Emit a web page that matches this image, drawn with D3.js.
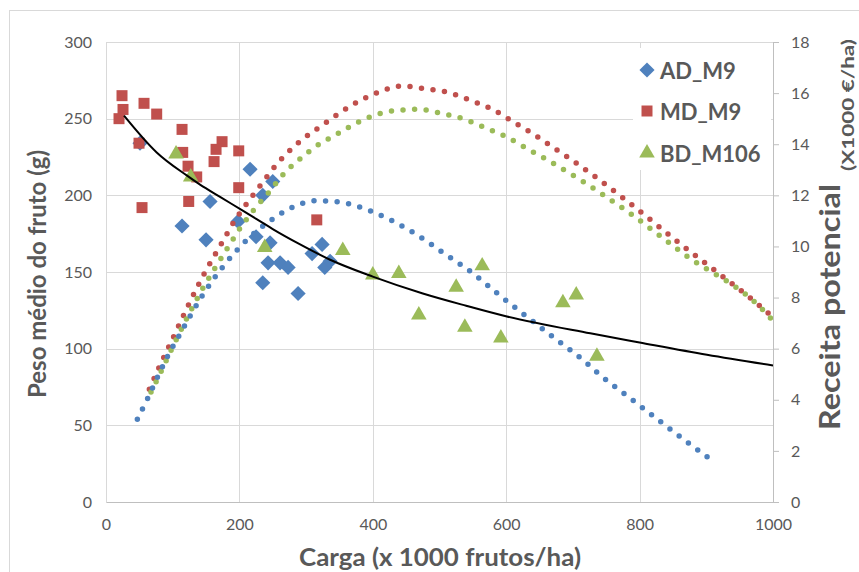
<!DOCTYPE html>
<html>
<head>
<meta charset="utf-8">
<script src="https://cdn.jsdelivr.net/npm/d3@7"></script>
<style>
  html, body { margin: 0; padding: 0; background: #fff; }
  svg { display: block; }
  text { font-family: Lato, "Open Sans", sans-serif; fill: #595959; }
</style>
</head>
<body>
<svg id="chart" width="859" height="572"></svg>
<script>
// ---------- DATA ----------
const xTicks = [0, 200, 400, 600, 800, 1000];
const yLeftTicks = [0, 50, 100, 150, 200, 250, 300];
const yRightTicks = [0, 2, 4, 6, 8, 10, 12, 14, 16, 18];

const seriesNames = ["AD_M9", "MD_M9", "BD_M106"];
const seriesColors = ["#4F81BD", "#C0504D", "#9BBB59"];

// AD_M9 (blue diamonds): carga, peso
const adX = [51, 114, 150, 156, 198, 216, 225, 235, 235, 246, 243, 250, 261, 273, 288, 309, 324, 328, 336];
const adY = [234, 180, 171, 196, 183, 217, 173, 143, 200, 169, 156, 209, 156, 153, 136, 162, 168, 153, 157];

// MD_M9 (red squares)
const mdX = [24, 25.5, 19.5, 57, 76, 114, 49.5, 174, 165, 199, 115, 162, 123, 136, 199, 54, 124, 316];
const mdY = [265, 256, 250, 260, 253, 243, 234, 235, 230, 229, 228, 222, 219, 212, 205, 192, 196, 184];

// BD_M106 (green triangles)
const bdX = [105, 127, 238, 355, 400, 439, 469, 525, 538, 564, 592, 685, 705, 736];
const bdY = [227, 212, 166, 164, 148, 149, 122, 140, 114, 154, 107, 130, 135, 95];

// black curve (peso vs carga)
const curveX = [27, 76, 121, 141, 171, 205, 235, 250, 291, 336, 400, 475, 540, 601, 726, 800, 901, 1000];
const curveY = [252, 228, 213, 207, 199, 190, 182, 178, 168, 158, 147, 136, 128, 121, 110, 104, 96, 89];

// Receita potencial (right axis, x1000 €/ha) dotted curves
const adRecX = [47, 62.5, 77.5, 93, 110, 145, 176, 211, 252, 282, 316, 351, 400, 463, 507, 550, 591, 632, 674, 716, 742, 784, 826, 868, 910];
const adRecY = [3.24, 4.06, 4.9, 5.74, 6.53, 8.1, 9.23, 10.25, 11.11, 11.56, 11.79, 11.73, 11.35, 10.51, 9.73, 8.95, 8.07, 7.23, 6.38, 5.54, 4.94, 4.1, 3.25, 2.41, 1.6];

const mdRecX = [65, 79.5, 94.5, 148, 174, 192, 212, 233, 255, 279, 330, 370, 411, 443, 478, 513, 546, 579, 609, 639, 669, 697, 780, 863, 920, 975, 1000];
const mdRecY = [4.41, 5.26, 6.09, 8.97, 10.15, 10.97, 11.71, 12.44, 13.19, 13.84, 14.85, 15.55, 16.06, 16.28, 16.17, 16.03, 15.72, 15.37, 14.9, 14.43, 13.9, 13.41, 11.8, 10.06, 8.92, 7.79, 7.23];

const bdRecX = [67.5, 83, 98, 146, 164, 183, 202, 223, 246, 268, 294, 307, 350, 385, 415, 450, 467, 502, 536, 568, 601, 631, 662, 780, 865, 993, 1000];
const bdRecY = [4.3, 5.13, 5.96, 8.4, 9.18, 9.97, 10.75, 11.47, 12.18, 12.89, 13.49, 13.77, 14.45, 14.95, 15.23, 15.35, 15.37, 15.21, 14.99, 14.65, 14.28, 13.83, 13.38, 11.4, 9.73, 7.29, 7.08];

// ---------- CHART ----------
const svg = d3.select("#chart");
const W = 859, H = 572;
const plot = { left: 106, right: 773, top: 42, bottom: 502 };

const x = d3.scaleLinear().domain([0, 1000]).range([plot.left, plot.right]);
const yL = d3.scaleLinear().domain([0, 300]).range([plot.bottom, plot.top]);
const yR = d3.scaleLinear().domain([0, 18]).range([plot.bottom, plot.top]);

// outer border
svg.append("rect")
  .attr("x", 9.5).attr("y", 10.5)
  .attr("width", W).attr("height", H)
  .attr("fill", "#fff").attr("stroke", "#D9D9D9").attr("stroke-width", 1);

// gridlines
const grid = svg.append("g").attr("stroke", "#D9D9D9").attr("stroke-width", 1);
grid.selectAll("line.h").data(yLeftTicks.filter(d => d > 0)).join("line")
  .attr("x1", plot.left).attr("x2", plot.right)
  .attr("y1", d => Math.round(yL(d)) + 0.5).attr("y2", d => Math.round(yL(d)) + 0.5);
grid.selectAll("line.v").data(xTicks.filter(d => d > 0 && d < 1000)).join("line")
  .attr("y1", plot.top).attr("y2", plot.bottom)
  .attr("x1", d => Math.round(x(d)) + 0.5).attr("x2", d => Math.round(x(d)) + 0.5);

// axes
const axisColor = "#BFBFBF";
const fmt = d3.format("d");
const gL = svg.append("g").attr("transform", `translate(${plot.left},0)`)
  .call(d3.axisLeft(yL).tickValues(yLeftTicks).tickFormat(fmt).tickSize(0).tickPadding(14));
const gB = svg.append("g").attr("transform", `translate(0,${plot.bottom})`)
  .call(d3.axisBottom(x).tickValues(xTicks).tickFormat(fmt).tickSize(0).tickPadding(17));
const gR = svg.append("g").attr("transform", `translate(${plot.right},0)`)
  .call(d3.axisRight(yR).tickValues(yRightTicks).tickFormat(fmt).tickSize(6).tickPadding(12));
[gL, gB, gR].forEach(g => {
  g.select(".domain").attr("stroke", axisColor);
  g.selectAll(".tick line").attr("stroke", axisColor);
  g.selectAll(".tick text").attr("fill", "#595959")
    .style("font-size", "16px").style("font-family", "Lato, sans-serif");
});
gL.select(".domain").attr("stroke", "#D9D9D9");

// axis titles
function title(tx, ty, rot, size, len, str) {
  svg.append("text")
    .attr("transform", `translate(${tx},${ty})` + (rot ? " rotate(-90)" : ""))
    .attr("text-anchor", "middle").attr("dominant-baseline", "central")
    .attr("textLength", len).attr("lengthAdjust", "spacingAndGlyphs")
    .style("font-size", size + "px").style("font-weight", "bold")
    .text(str);
}
title(36, 274, true, 25, 248, "Peso médio do fruto (g)");
title(829, 307, true, 28, 246, "Receita potencial");
title(847, 105, true, 17, 132, "(X1000 €/ha)");
title(440, 556, false, 25, 282, "Carga (x 1000 frutos/ha)");

// markers
const symDiamond = d3.symbol().type(d3.symbolSquare).size(115);
const symSquare = d3.symbol().type(d3.symbolSquare).size(121);
const symTri = d3.symbol().type(d3.symbolTriangle).size(105);

const marks = svg.append("g");
marks.selectAll("path.ad").data(d3.range(adX.length)).join("path")
  .attr("d", symDiamond())
  .attr("transform", i => `translate(${x(adX[i])},${yL(adY[i])}) rotate(45)`)
  .attr("fill", seriesColors[0]);
marks.selectAll("path.md").data(d3.range(mdX.length)).join("path")
  .attr("d", symSquare())
  .attr("transform", i => `translate(${x(mdX[i])},${yL(mdY[i])})`)
  .attr("fill", seriesColors[1]);
marks.selectAll("path.bd").data(d3.range(bdX.length)).join("path")
  .attr("d", symTri())
  .attr("transform", i => `translate(${x(bdX[i])},${yL(bdY[i])})`)
  .attr("fill", seriesColors[2]);

// dotted revenue curves
const recLine = d3.line().x(d => x(d[0])).y(d => yR(d[1])).curve(d3.curveMonotoneX);
const dotted = [
  [mdRecX, mdRecY, seriesColors[1]],
  [bdRecX, bdRecY, seriesColors[2]],
  [adRecX, adRecY, seriesColors[0]]
];
dotted.forEach(([xs, ys, c]) => {
  svg.append("path")
    .datum(xs.map((v, i) => [v, ys[i]]))
    .attr("d", recLine)
    .attr("fill", "none").attr("stroke", c)
    .attr("stroke-width", 5.5).attr("stroke-linecap", "round")
    .attr("stroke-dasharray", "0 11.6");
});

// black curve
const wLine = d3.line().x(d => x(d[0])).y(d => yL(d[1])).curve(d3.curveMonotoneX);
svg.append("path")
  .datum(curveX.map((v, i) => [v, curveY[i]]))
  .attr("d", wLine)
  .attr("fill", "none").attr("stroke", "#000").attr("stroke-width", 2);

// legend
const leg = svg.append("g");
leg.append("rect").attr("x", 633).attr("y", 48).attr("width", 138).attr("height", 122).attr("fill", "#fff");
const legY = [70, 111, 153];
const legSyms = [symDiamond, symSquare, symTri];
seriesNames.forEach((n, i) => {
  leg.append("path").attr("d", legSyms[i]())
    .attr("transform", `translate(647,${legY[i]})` + (i === 0 ? " rotate(45)" : ""))
    .attr("fill", seriesColors[i]);
  leg.append("text").attr("x", 660).attr("y", legY[i])
    .attr("dominant-baseline", "central")
    .style("font-size", "22px").style("font-weight", "bold")
    .text(n);
});
// redraw right axis line over legend
svg.append("line").attr("x1", plot.right + 0.5).attr("x2", plot.right + 0.5)
  .attr("y1", plot.top).attr("y2", plot.bottom).attr("stroke", axisColor);
</script>
</body>
</html>
